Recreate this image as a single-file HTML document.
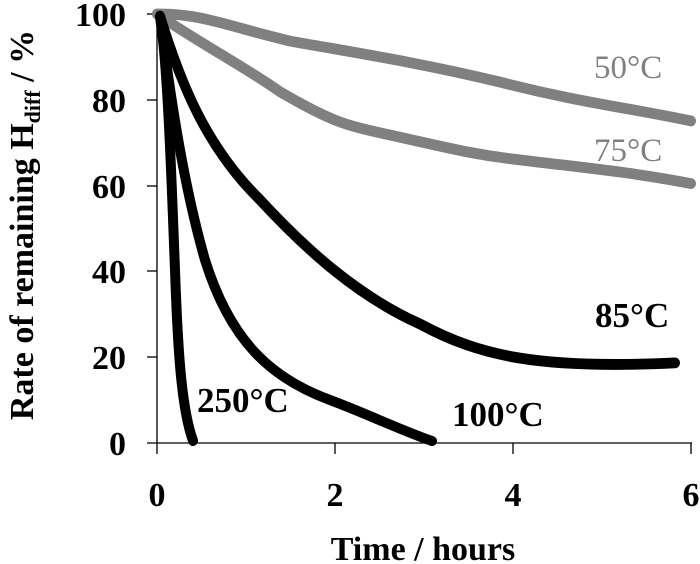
<!DOCTYPE html>
<html><head><style>body{margin:0;background:#fff}svg{display:block}</style></head>
<body>
<svg width="700" height="564" xmlns="http://www.w3.org/2000/svg" font-family="Liberation Serif, serif" font-weight="bold">
<g stroke="#000" stroke-width="1.3">
<line x1="157" y1="13" x2="157" y2="454"/>
<line x1="147" y1="443" x2="692" y2="443"/>
<line x1="147" y1="14" x2="157" y2="14"/>
<line x1="147" y1="100" x2="157" y2="100"/>
<line x1="147" y1="186" x2="157" y2="186"/>
<line x1="147" y1="271" x2="157" y2="271"/>
<line x1="147" y1="357" x2="157" y2="357"/>
<line x1="335" y1="443" x2="335" y2="454"/>
<line x1="513" y1="443" x2="513" y2="454"/>
<line x1="691" y1="443" x2="691" y2="454"/>
</g>
<g font-size="34" text-anchor="end">
<text x="126" y="26">100</text><text x="126" y="112">80</text><text x="126" y="198">60</text>
<text x="126" y="283">40</text><text x="126" y="369">20</text><text x="126" y="455">0</text>
</g>
<g font-size="34" text-anchor="middle">
<text x="157" y="506">0</text><text x="335" y="506">2</text><text x="513" y="506">4</text><text x="691" y="506">6</text>
</g>
<text x="423" y="560" font-size="34" text-anchor="middle">Time / hours</text>
<text transform="translate(33,225) rotate(-90)" font-size="34" text-anchor="middle">Rate of remaining H<tspan font-size="22" dy="7">diff</tspan><tspan dy="-7"> / %</tspan></text>
<g fill="none" stroke-linecap="round" stroke-linejoin="round" stroke-width="10" transform="matrix(1,0,0,1.08,0,0)">
<path stroke="#808080" d="M157,13 C200,12 230,25 290,38 C350,48 420,58 500,76 C580,95 630,100 691,112"/>
<path stroke="#808080" d="M157,13 C200,40 250,65 280,85 C330,112 345,116 385,124 C440,135 470,143 520,148 C580,155 630,159 691,170"/>
<path stroke="#000" d="M160,15 C180,75 205,135 260,185 C310,235 360,275 420,300 C480,330 540,342 675,336"/>
<path stroke="#000" d="M160,15 C168,60 172,180 175,250 C178,330 182,380 193,408"/>
</g>
<path fill="none" stroke="#000" stroke-width="10" stroke-linecap="round" d="M160,16 C172,110 185,190 205,260 C230,340 270,378 330,400 C370,415 400,430 432,441"/>
<g font-size="33" font-weight="normal" fill="#808080">
<text x="594" y="78">50°C</text><text x="594" y="161">75°C</text>
</g>
<g font-size="35" fill="#000">
<text x="595" y="327">85°C</text><text x="452" y="426">100°C</text><text x="197" y="412">250°C</text>
</g>
</svg>
</body></html>
